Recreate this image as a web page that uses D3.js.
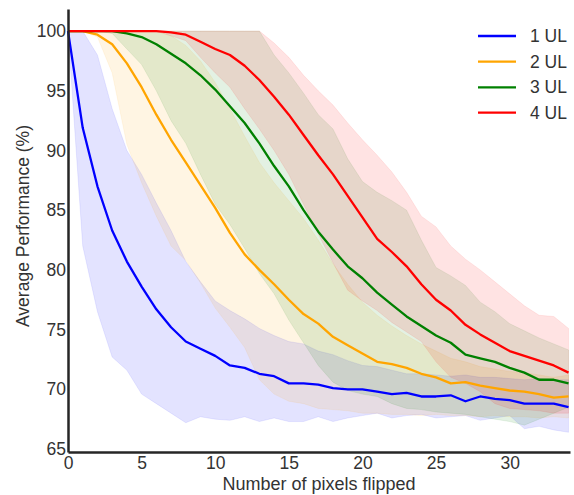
<!DOCTYPE html>
<html>
<head>
<meta charset="utf-8">
<script src="https://cdn.jsdelivr.net/npm/d3@7"></script>
<style>
  html, body { margin: 0; padding: 0; background: #fff; }
  svg { display: block; font-family: "Liberation Sans", Arial, sans-serif; }
</style>
</head>
<body>
<svg id="chart" width="574" height="495"></svg>
<script>
const xs = d3.range(0, 35);
const seriesNames = ["1 UL", "2 UL", "3 UL", "4 UL"];
const seriesColors = ["#0000ff", "#ffa500", "#008000", "#ff0000"];

const mean1 = [100, 91.9, 87.0, 83.3, 80.7, 78.6, 76.7, 75.2, 74.0, 73.4, 72.8, 72.0, 71.8, 71.3, 71.1, 70.5, 70.5, 70.4, 70.1, 70.0, 70.0, 69.8, 69.6, 69.7, 69.4, 69.4, 69.5, 69.0, 69.4, 69.2, 69.1, 68.8, 68.8, 68.8, 68.5];
const low1  = [100, 82.0, 76.5, 72.7, 71.6, 69.6, 68.8, 68.0, 67.2, 67.7, 67.5, 67.4, 67.7, 67.3, 67.6, 67.3, 67.3, 67.7, 67.3, 67.6, 67.8, 68.0, 67.6, 67.8, 67.9, 67.6, 67.7, 67.8, 67.4, 67.6, 67.8, 66.7, 66.9, 66.6, 66.4];
const high1 = [100, 100, 98.0, 93.5, 90.0, 88.0, 85.6, 83.3, 80.7, 79.0, 77.4, 76.6, 75.9, 75.1, 74.5, 74.0, 73.8, 73.2, 72.9, 72.4, 72.0, 71.9, 71.6, 71.3, 71.3, 71.2, 71.1, 71.2, 71.0, 71.0, 70.9, 70.8, 70.9, 70.8, 70.8];

const mean2 = [100, 100, 99.7, 98.9, 97.3, 95.3, 93.0, 90.9, 89.0, 87.1, 85.2, 83.1, 81.3, 80.0, 78.8, 77.5, 76.3, 75.5, 74.4, 73.7, 73.0, 72.3, 72.1, 71.8, 71.3, 71.0, 70.5, 70.6, 70.3, 70.1, 69.9, 69.8, 69.6, 69.3, 69.4];
const low2  = [100, 100, 99.5, 96.5, 90.5, 87.3, 84.5, 82.0, 80.8, 78.9, 76.8, 75.2, 73.5, 70.8, 69.6, 69.0, 68.8, 68.4, 68.3, 68.2, 68.0, 68.0, 67.9, 67.9, 67.8, 67.9, 67.8, 67.8, 67.7, 67.8, 67.7, 67.7, 67.6, 67.7, 67.6];
const high2 = [100, 100, 100, 100, 100, 100, 100, 99.6, 98.8, 97.5, 95.7, 93.5, 91.2, 89.0, 87.3, 85.8, 84.3, 82.5, 80.5, 78.8, 77.3, 76.2, 75.3, 74.5, 73.8, 73.2, 72.6, 72.3, 71.9, 71.7, 71.5, 71.4, 71.2, 71.0, 71.2];

const mean3 = [100, 100, 100, 100, 99.8, 99.5, 98.9, 98.1, 97.3, 96.3, 95.1, 93.7, 92.3, 90.6, 88.7, 87.0, 85.0, 83.2, 81.7, 80.3, 79.3, 78.1, 77.1, 76.1, 75.3, 74.5, 73.9, 72.9, 72.6, 72.3, 71.8, 71.4, 70.8, 70.8, 70.5];
const low3  = [100, 100, 100, 99.8, 98.5, 97.2, 95.0, 92.5, 90.6, 88.0, 85.5, 83.8, 81.8, 79.7, 78.0, 75.8, 73.9, 72.0, 70.6, 69.9, 69.6, 69.4, 68.8, 68.4, 68.3, 68.1, 68.0, 67.9, 67.7, 67.5, 67.3, 67.0, 67.5, 68.0, 68.5];
const high3 = [100, 100, 100, 100, 100, 100, 100, 100, 100, 100, 100, 100, 100, 100, 98.0, 96.5, 94.8, 93.0, 91.8, 89.3, 87.4, 86.5, 85.8, 85.0, 82.5, 80.2, 79.5, 78.7, 77.3, 76.5, 75.5, 74.9, 74.3, 73.8, 73.3];

const mean4 = [100, 100, 100, 100, 100, 100, 100, 99.9, 99.7, 99.1, 98.5, 98.0, 97.1, 95.9, 94.5, 93.0, 91.3, 89.6, 88.0, 86.2, 84.4, 82.6, 81.5, 80.3, 78.8, 77.5, 76.6, 75.4, 74.6, 73.9, 73.2, 72.8, 72.4, 72.0, 71.4];
const low4  = [100, 100, 100, 100, 100, 100, 100, 99.6, 99.2, 97.8, 96.5, 95.3, 93.5, 91.8, 90.0, 88.0, 85.5, 83.0, 80.6, 78.3, 77.4, 76.6, 75.6, 74.8, 74.0, 72.3, 71.0, 70.5, 69.8, 68.8, 68.4, 68.3, 68.2, 68.0, 68.0];
const high4 = [100, 100, 100, 100, 100, 100, 100, 100, 100, 100, 100, 100, 100, 100, 99.0, 97.8, 96.3, 95.0, 93.8, 92.3, 90.9, 89.6, 88.2, 86.5, 84.5, 83.6, 82.0, 80.9, 80.0, 79.0, 78.0, 77.0, 76.2, 76.1, 75.1];

const xTicks = [0, 5, 10, 15, 20, 25, 30];
const yTicks = [65, 70, 75, 80, 85, 90, 95, 100];
const xLabel = "Number of pixels flipped";
const yLabel = "Average Performance (%)";

const means = [mean1, mean2, mean3, mean4];
const lows = [low1, low2, low3, low4];
const highs = [high1, high2, high3, high4];

const svg = d3.select("#chart");
const mLeft = 68, mRight = 570, mTop = 9, mBottom = 452;
const x = d3.scaleLinear().domain([0, 34.1]).range([mLeft, mRight]);
const y = d3.scaleLinear().domain([64.75, 101.85]).range([mBottom, mTop]);

const area = (lo, hi) => d3.area().x((d, i) => x(xs[i])).y0((d, i) => y(lo[i])).y1((d, i) => y(hi[i]))(xs);
const line = arr => d3.line().x((d, i) => x(xs[i])).y((d, i) => y(arr[i]))(xs);

const plot = svg.append("g");
seriesNames.forEach((name, k) => {
  plot.append("path")
    .attr("d", area(lows[k], highs[k]))
    .attr("fill", seriesColors[k]).attr("fill-opacity", 0.11)
    .attr("stroke", seriesColors[k]).attr("stroke-opacity", 0.08).attr("stroke-width", 1);
});
seriesNames.forEach((name, k) => {
  plot.append("path")
    .attr("d", line(means[k]))
    .attr("fill", "none").attr("stroke", seriesColors[k])
    .attr("stroke-width", 2.3).attr("stroke-linejoin", "round");
});

const textColor = "#333";
const gx = svg.append("g").attr("transform", `translate(0,${mBottom})`)
  .call(d3.axisBottom(x).tickValues(xTicks).tickSize(0).tickPadding(5).tickFormat(d3.format("d")));
const gy = svg.append("g").attr("transform", `translate(${mLeft},0)`)
  .call(d3.axisLeft(y).tickValues(yTicks).tickSize(0).tickPadding(2).tickFormat(d3.format("d")));
[gx, gy].forEach(g => {
  g.select(".domain").attr("stroke", "#262626").attr("stroke-width", 2.5);
  g.selectAll("text").attr("font-size", 17.5).attr("fill", textColor)
    .attr("font-family", '"Liberation Sans", Arial, sans-serif');
});

svg.append("text").attr("x", (mLeft + mRight) / 2).attr("y", 490)
  .attr("text-anchor", "middle").attr("font-size", 18).attr("fill", textColor).text(xLabel);
svg.append("text").attr("transform", `translate(29,226) rotate(-90)`)
  .attr("text-anchor", "middle").attr("font-size", 17.5).attr("fill", textColor).text(yLabel);

const legend = svg.append("g");
const legendY = [36, 61.7, 87.3, 112.7];
seriesNames.forEach((name, k) => {
  legend.append("line").attr("x1", 478).attr("x2", 516).attr("y1", legendY[k]).attr("y2", legendY[k])
    .attr("stroke", seriesColors[k]).attr("stroke-width", 2.3);
  legend.append("text").attr("x", 530).attr("y", legendY[k]).attr("dy", "0.35em")
    .attr("font-size", 17.5).attr("fill", textColor).text(name);
});
</script>
</body>
</html>
